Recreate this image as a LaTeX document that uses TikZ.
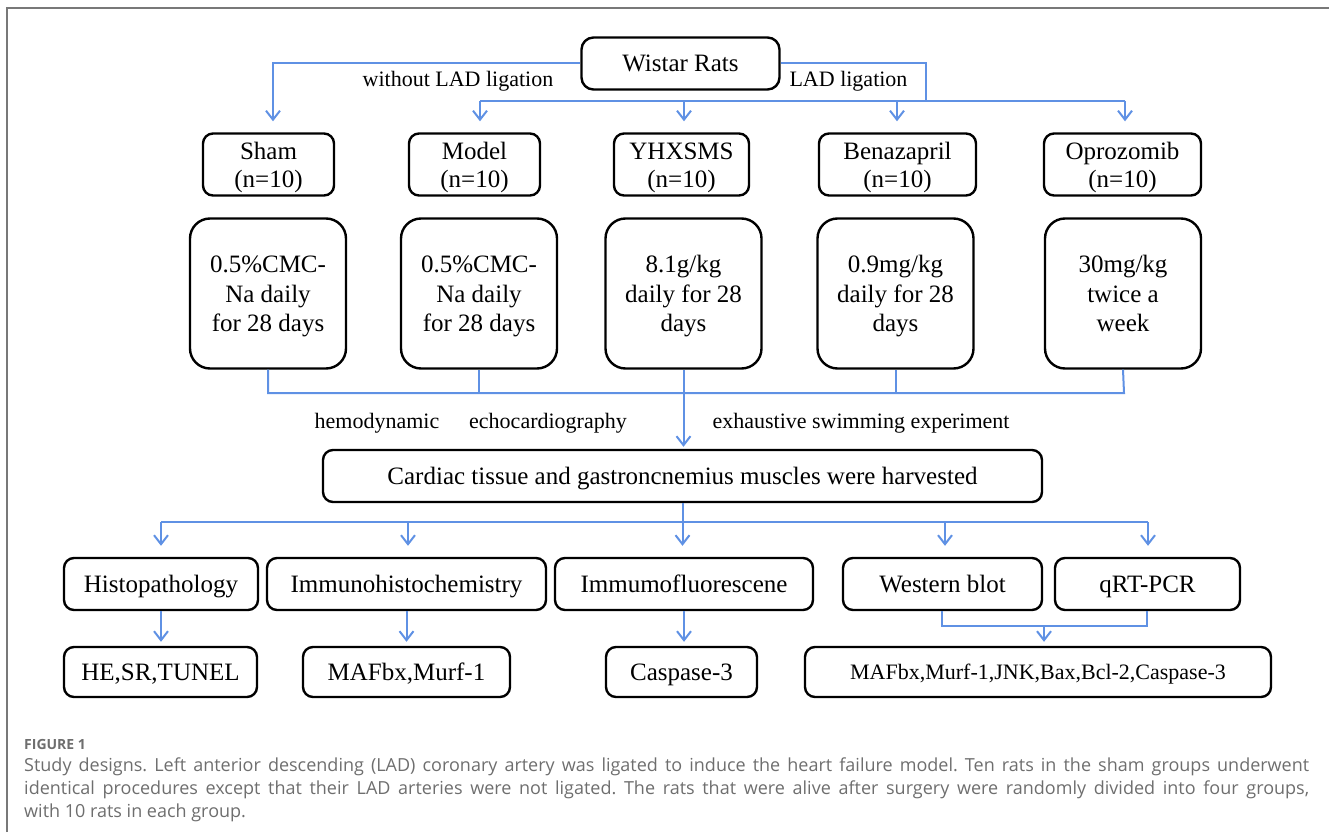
\documentclass[tikz,border=0pt]{standalone}
\usepackage{fontspec}
\setmainfont{Liberation Serif}
\newfontfamily\capfont{Open Sans}
\usetikzlibrary{arrows.meta,calc}
\definecolor{linkblue}{RGB}{95,145,228}
\definecolor{capgray}{RGB}{110,110,110}
\definecolor{framegray}{RGB}{120,120,120}
\frenchspacing
\newcommand\topstr{\rule{0pt}{23pt}}
\newcommand\botstr{\rule[-6pt]{0pt}{6pt}}
\newcommand\topstrs{\rule{0pt}{21pt}}
\tikzset{
 box/.style={draw=black, line width=2.4pt, rounded corners=10pt, align=center, inner sep=0pt, font=\fontsize{25}{28}\selectfont},
 groupbox/.style={box, minimum height=62pt},
 bigbox/.style={box, rounded corners=20pt, minimum width=156pt, minimum height=150pt, font=\fontsize{25}{29.5}\selectfont},
 conn/.style={draw=linkblue, line width=2pt},
 arr/.style={conn, -{Straight Barb[length=9pt,width=14pt,line width=2pt]}},
 lbl/.style={font=\fontsize{22}{26}\selectfont, inner sep=0pt},
 capt/.style={anchor=base west, inner sep=0pt, text=capgray, font=\capfont\fontsize{18}{22}\selectfont},
}
\begin{document}
\begin{tikzpicture}[x=1pt,y=-1pt]
\useasboundingbox (0,0) rectangle (1329,832);
\draw[framegray, line width=1.8pt] (7,832) -- (7,8) -- (1329,8);

% top
\node[box, minimum width=198pt, minimum height=52pt, rounded corners=12pt] (wistar) at (680.5,63.5) {\topstr Wistar Rats\botstr};
\node[groupbox, minimum width=131pt] (g1) at (268.5,164.5) {\topstr Sham\\(n=10)\botstr};
\node[groupbox, minimum width=131pt] (g2) at (474.5,164.5) {\topstr Model\\(n=10)\botstr};
\node[groupbox, minimum width=135pt] (g3) at (681.5,164.5) {\topstr YHXSMS\\(n=10)\botstr};
\node[groupbox, minimum width=157pt] (g4) at (897.5,164.5) {\topstr Benazapril\\(n=10)\botstr};
\node[groupbox, minimum width=157pt] (g5) at (1122.5,164.5) {\topstr Oprozomib\\(n=10)\botstr};

\node[lbl] (lw) at (458,81.5) {without LAD ligation};
\node[lbl] (ll) at (848.5,81.5) {LAD ligation};

\draw[arr, shorten >=11pt] (wistar.west) -| ($(g1.north)+(4.5,0)$);
\coordinate (ba) at (926,101);
\coordinate (b2) at (480,101);
\coordinate (b3) at (684,101);
\coordinate (b4) at (897,101);
\coordinate (b5) at (1125,101);
\draw[conn] (wistar.east) -| (ba);
\draw[conn] (b2) -- (b5);
\draw[arr, shorten >=11pt] (b2) -- (b2 |- g2.north);
\draw[arr, shorten >=11pt] (b3) -- (b3 |- g3.north);
\draw[arr, shorten >=11pt] (b4) -- (b4 |- g4.north);
\draw[arr, shorten >=11pt] (b5) -- (b5 |- g5.north);

% treatments
\node[bigbox] (t1) at (268,293.5) {\topstr 0.5\%CMC-\\Na daily\\for 28 days\botstr};
\node[bigbox] (t2) at (479,293.5) {\topstr 0.5\%CMC-\\Na daily\\for 28 days\botstr};
\node[bigbox] (t3) at (683.5,293.5) {\topstr 8.1g/kg\\daily for 28\\days\botstr};
\node[bigbox] (t4) at (895.5,293.5) {\topstr 0.9mg/kg\\daily for 28\\days\botstr};
\node[bigbox] (t5) at (1123,293.5) {\topstr 30mg/kg\\twice a\\week\botstr};

\coordinate (m1) at (268,393);
\coordinate (m5) at (1124,393);
\draw[conn] (t1.south) -- (m1) -- (m5) -- (t5.south);
\draw[conn] (t2.south) -- (t2.south |- m1);
\draw[conn] (t4.south) -- (t4.south |- m1);

\node[box, minimum width=719pt, minimum height=52pt] (harv) at (682.5,476) {\topstr Cardiac tissue and gastroncnemius muscles were harvested\botstr};
\draw[arr, shorten >=2pt] (t3.south) -- (t3.south |- harv.north);

\node[lbl] (e1) at (377,423.5) {hemodynamic};
\node[lbl] (e2) at (548,423.5) {echocardiography};
\node[lbl] (e3) at (861,423.5) {exhaustive swimming experiment};

% methods
\node[box, minimum width=194pt, minimum height=52pt] (p1) at (161,584) {\topstr Histopathology\botstr};
\node[box, minimum width=279pt, minimum height=52pt] (p2) at (406.5,584) {\topstr Immunohistochemistry\botstr};
\node[box, minimum width=258pt, minimum height=52pt] (p3) at (684,584) {\topstr Immumofluorescene\botstr};
\node[box, minimum width=199pt, minimum height=52pt] (p4) at (942.5,584) {\topstr Western blot\botstr};
\node[box, minimum width=185pt, minimum height=52pt] (p5) at (1147.5,584) {\topstr qRT-PCR\botstr};

\coordinate (h1) at (161,522);
\coordinate (h2) at (408,522);
\coordinate (h4) at (945,522);
\coordinate (h5) at (1148,522);
\draw[conn] (harv.south) -- (harv.south |- h1);
\draw[conn] (h1) -- (h5);
\draw[arr, shorten >=11pt] (h1) -- (h1 |- p1.north);
\draw[arr, shorten >=11pt] (h2) -- (h2 |- p2.north);
\draw[arr, shorten >=11pt] (harv.south |- h1) -- (harv.south |- p3.north);
\draw[arr, shorten >=11pt] (h4) -- (h4 |- p4.north);
\draw[arr, shorten >=11pt] (h5) -- (h5 |- p5.north);

% results
\node[box, minimum width=193pt, minimum height=50pt] (r1) at (160.5,672) {\topstr HE,SR,TUNEL\botstr};
\node[box, minimum width=207pt, minimum height=50pt] (r2) at (406.5,672) {\topstr MAFbx,Murf-1\botstr};
\node[box, minimum width=151pt, minimum height=50pt] (r3) at (681.5,672) {\topstr Caspase-3\botstr};
\node[box, minimum width=466pt, minimum height=50pt, font=\fontsize{22}{26}\selectfont] (r4) at (1038,672) {\topstrs MAFbx,Murf-1,JNK,Bax,Bcl-2,Caspase-3\botstr};

\draw[arr, shorten >=4pt] (p1.south) -- (p1.south |- r1.north);
\draw[arr, shorten >=4pt] (p2.south) -- (p2.south |- r2.north);
\draw[arr, shorten >=4pt] (p3.south) -- (p3.south |- r3.north);
\coordinate (q1) at (942,626);
\coordinate (q2) at (1147,626);
\coordinate (q3) at (1044,626);
\draw[conn] (q1 |- p4.south) -- (q1) -- (q2) -- (q2 |- p5.south);
\draw[arr, shorten >=4pt] (q3) -- (q3 |- r4.north);

% caption
\node[capt, font=\capfont\bfseries\fontsize{14}{16}\selectfont] (fig) at (24,749) {FIGURE 1};
\node[capt] (c1) at (24,771.5) {\makebox[1285pt][s]{Study designs. Left anterior descending (LAD) coronary artery was ligated to induce the heart failure model. Ten rats in the sham groups underwent}};
\node[capt] (c2) at (24,794.5) {\makebox[1285pt][s]{identical procedures except that their LAD arteries were not ligated. The rats that were alive after surgery were randomly divided into four groups,}};
\node[capt] (c3) at (24,817) {with 10 rats in each group.};
\end{tikzpicture}
\end{document}
